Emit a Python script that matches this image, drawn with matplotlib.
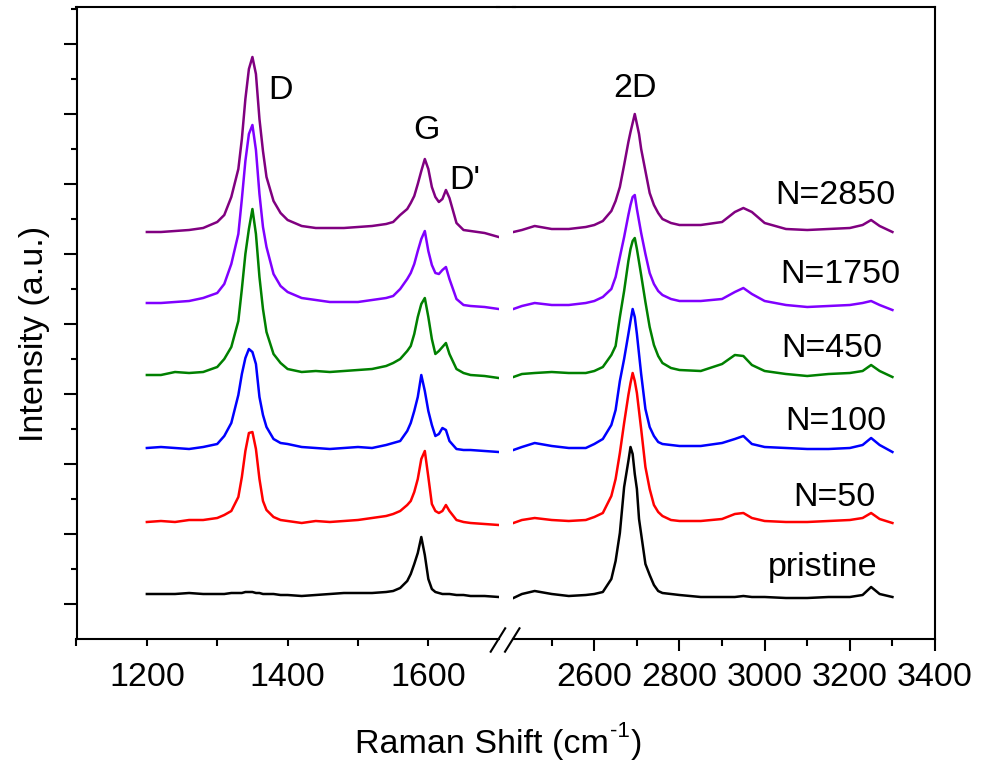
import numpy as np
import matplotlib.pyplot as plt
import matplotlib.ticker as ticker
from matplotlib.lines import Line2D

plt.rcParams['font.family'] = ['Liberation Sans', 'DejaVu Sans']

# Raman shift (cm-1), two parts of the broken axis
shift_left = [1200, 1220, 1240, 1260, 1280, 1300, 1310, 1320, 1330, 1335, 1340, 1345,
              1350, 1355, 1360, 1365, 1370, 1380, 1390, 1400, 1420, 1440, 1460, 1480,
              1500, 1520, 1540, 1550, 1560, 1570, 1575, 1580, 1585, 1590, 1595, 1600,
              1605, 1610, 1615, 1620, 1625, 1630, 1640, 1650, 1660, 1680, 1700]
shift_right = [2410, 2430, 2460, 2500, 2540, 2580, 2600, 2620, 2640, 2650, 2660, 2670,
               2680, 2685, 2690, 2695, 2700, 2705, 2710, 2720, 2730, 2740, 2750, 2760,
               2780, 2800, 2850, 2900, 2930, 2950, 2970, 3000, 3050, 3100, 3150, 3200,
               3230, 3250, 3270, 3300]

# intensities (a.u.), stacked spectra
n2850_left = [407, 407, 408, 409, 411, 417, 424, 442, 470, 500, 540, 570,
              582, 565, 520, 488, 462, 438, 426, 419, 413, 411, 411, 411,
              412, 413, 415, 417, 424, 430, 436, 443, 455, 468, 480, 470,
              452, 442, 437, 440, 449, 441, 416, 409, 408, 406, 402]
n1750_left = [336, 336, 337, 338, 341, 346, 355, 375, 405, 440, 478, 505,
              514, 489, 445, 412, 392, 365, 353, 347, 341, 339, 337, 337,
              337, 339, 341, 343, 350, 360, 366, 375, 388, 400, 408, 388,
              374, 366, 365, 369, 372, 360, 340, 334, 333, 332, 330]
n450_left = [264, 264, 267, 266, 267, 272, 280, 292, 318, 350, 385, 410,
             430, 405, 362, 330, 307, 285, 276, 270, 267, 268, 267, 268,
             269, 270, 273, 276, 280, 288, 293, 305, 322, 335, 341, 322,
             300, 285, 288, 292, 296, 285, 270, 266, 264, 263, 261]
n100_left = [191, 192, 191, 190, 192, 195, 203, 216, 244, 265, 281, 290,
             287, 275, 242, 224, 212, 200, 196, 195, 192, 191, 190, 191,
             192, 191, 194, 196, 198, 208, 216, 228, 242, 264, 248, 228,
             214, 203, 205, 211, 209, 198, 190, 189, 189, 188, 187]
n50_left = [117, 118, 117, 119, 119, 121, 124, 128, 142, 162, 188, 206,
            207, 190, 160, 138, 129, 122, 119, 118, 116, 118, 117, 118,
            119, 121, 123, 125, 128, 134, 138, 147, 160, 180, 188, 162,
            135, 128, 126, 128, 134, 128, 119, 117, 116, 115, 114]
pristine_left = [45, 45, 45, 46, 45, 45, 45, 46, 46, 46, 47, 47,
                 47, 46, 46, 45, 45, 45, 44, 44, 43, 44, 45, 46,
                 46, 46, 47, 48, 51, 58, 65, 75, 86, 102, 84, 60,
                 50, 47, 46, 45, 45, 45, 44, 44, 43, 43, 42]

n2850_right = [407, 409, 413, 410, 410, 412, 414, 418, 428, 438, 452, 474,
               497, 507, 516, 525, 515, 505, 490, 468, 446, 434, 426, 420,
               416, 414, 414, 417, 427, 431, 427, 416, 410, 409, 410, 411,
               414, 419, 413, 407]
n1750_right = [330, 333, 336, 334, 334, 336, 338, 342, 350, 362, 382, 402,
               424, 434, 442, 444, 430, 418, 406, 385, 366, 355, 348, 344,
               340, 338, 338, 340, 347, 351, 345, 338, 334, 332, 333, 334,
               336, 338, 334, 329]
n450_right = [262, 265, 266, 267, 266, 266, 268, 272, 284, 293, 322, 348,
              378, 390, 398, 401, 390, 377, 364, 337, 312, 294, 283, 276,
              271, 269, 268, 275, 284, 283, 274, 268, 265, 263, 265, 266,
              268, 274, 268, 262]
n100_right = [189, 192, 196, 193, 191, 191, 195, 200, 214, 229, 258, 280,
              305, 318, 330, 322, 305, 285, 265, 230, 212, 203, 197, 195,
              194, 193, 193, 196, 200, 203, 195, 192, 191, 190, 190, 191,
              194, 201, 194, 187]
n50_right = [116, 119, 121, 119, 118, 119, 122, 126, 143, 160, 186, 216,
             244, 256, 266, 258, 246, 228, 210, 172, 150, 134, 127, 123,
             119, 118, 118, 120, 125, 126, 121, 118, 117, 117, 118, 119,
             121, 126, 120, 116]
pristine_right = [41, 45, 48, 45, 43, 44, 45, 47, 60, 78, 106, 152,
                  178, 192, 185, 165, 150, 120, 105, 75, 64, 54, 48, 46,
                  45, 44, 42, 42, 42, 43, 42, 42, 41, 41, 42, 42,
                  44, 52, 45, 42]

names = ["N=2850", "N=1750", "N=450", "N=100", "N=50", "pristine"]
colors = ["#800080", "#8000FF", "#008000", "#0000FF", "#FF0000", "#000000"]
spectra_left = [n2850_left, n1750_left, n450_left, n100_left, n50_left, pristine_left]
spectra_right = [n2850_right, n1750_right, n450_right, n100_right, n50_right, pristine_right]

FS = 24.5
W, H = 992.0, 762.0
fig = plt.figure(figsize=(W / 100, H / 100), dpi=100)
axL = fig.add_axes([76.5 / W, (H - 639) / H, (498.7 - 76.5) / W, 632 / H])
axR = fig.add_axes([513.4 / W, (H - 639) / H, (935 - 513.4) / W, 632 / H])

for yl, yr, c in zip(spectra_left, spectra_right, colors):
    axL.plot(shift_left, yl, color=c, lw=1.8)
    axR.plot(shift_right, yr, color=c, lw=1.8)

axL.set_xlim(1100, 1700)
axR.set_xlim(2410, 3400)
for ax in (axL, axR):
    ax.set_ylim(0, 632)
    for s in ax.spines.values():
        s.set_linewidth(1.5)

# left part: short ticks only, right part: long majors
axL.tick_params(axis="x", which="major", direction="out", length=5, width=1.5,
                pad=11.5, labelsize=FS)
axL.tick_params(axis="x", which="minor", direction="out", length=5, width=1.5)
axR.tick_params(axis="x", which="major", direction="out", length=8.5, width=1.5,
                pad=8, labelsize=FS)
axR.tick_params(axis="x", which="minor", direction="out", length=5, width=1.5)

axL.spines["right"].set_visible(False)
axR.spines["left"].set_visible(False)

axL.xaxis.set_major_locator(ticker.FixedLocator([1200, 1400, 1600]))
axL.xaxis.set_minor_locator(ticker.FixedLocator([1100, 1300, 1500]))
axR.xaxis.set_major_locator(ticker.FixedLocator([2600, 2800, 3000, 3200, 3400]))
axR.xaxis.set_minor_locator(ticker.FixedLocator([2500, 2700, 2900, 3100, 3300]))

axL.yaxis.set_major_locator(ticker.FixedLocator(np.arange(35, 632, 70)))
axL.yaxis.set_minor_locator(ticker.FixedLocator(np.arange(70, 632, 70)))
axL.yaxis.set_major_formatter(ticker.NullFormatter())
axL.tick_params(axis="y", which="major", direction="out", length=9.5, width=1.5)
axL.tick_params(axis="y", which="minor", direction="out", length=4.5, width=1.5)
axR.tick_params(axis="y", which="both", left=False, right=False, labelleft=False)

# peak labels
axL.text(1390, 540, "D", fontsize=FS, ha="center", va="baseline")
axL.text(1598, 500, "G", fontsize=FS, ha="center", va="baseline")
axL.text(1652, 450, "D'", fontsize=FS, ha="center", va="baseline")
axR.text(2696, 542, "2D", fontsize=FS, ha="center", va="baseline")

label_x = [3167, 3177, 3158, 3168, 3163, 3137]
label_y = [435, 356, 282, 209, 133, 63]
for n, lx, ly in zip(names, label_x, label_y):
    axR.text(lx, ly, n, fontsize=FS, ha="center", va="baseline")

# top spine across the gap and the break marks
fig.add_artist(Line2D([497 / W, 515 / W], [(H - 7) / H, (H - 7) / H], color="k",
                      lw=1.5, transform=fig.transFigure))
for x0 in (490.7, 505.0):
    fig.add_artist(Line2D([x0 / W, (x0 + 14.5) / W], [(H - 651.7) / H, (H - 628.3) / H],
                          color="k", lw=1.5, transform=fig.transFigure))

# x label with a plain-text superscript, pieced together and centred
r = fig.canvas.get_renderer()
parts = [("Raman Shift (cm", FS, 753), ("-1", 16, 737), (")", FS, 753)]
texts = [fig.text(0, (H - b) / H, s, fontsize=f, ha="left", va="baseline") for s, f, b in parts]
widths = [t.get_window_extent(r).width for t in texts]
x = 498.5 - (sum(widths) + 2) / 2
for t, w in zip(texts, widths):
    t.set_x(x / W)
    x += w + 1

fig.text(35 / W, (H - 334) / H, "Intensity (a.u.)", fontsize=FS, rotation=90,
         ha="center", va="center")

fig.savefig("out.png", dpi=100)
